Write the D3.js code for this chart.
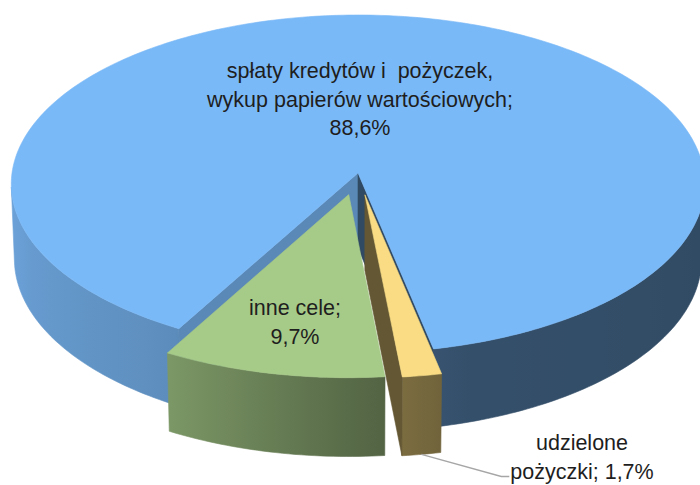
<!DOCTYPE html>
<html>
<head>
<meta charset="utf-8">
<script src="https://cdn.jsdelivr.net/npm/d3@7"></script>
<style>
  body { margin: 0; background: #fff; }
  svg { display: block; }
  text { white-space: pre; }
</style>
</head>
<body>
<div id="chart"></div>
<script>

// 3D pie chart: cele wydatków (udział %)

// chart data, clockwise from the first slice
const categories = ["udzielone pożyczki", "inne cele", "spłaty kredytów i  pożyczek, wykup papierów wartościowych"];
const values = [1.7, 9.7, 88.6];
const labelLines = [["udzielone", "pożyczki;"], ["inne cele;"], ["spłaty kredytów i  pożyczek,", "wykup papierów wartościowych;"]];
const topColors = ["#f9dc83", "#a6ca88", "#7ab9f7"];
const explode = [0.13, 0.13, 0];

// label placement (centre x, first baseline, value on same line?)
const labelPos = [
  {x: 582, y: 450, inline: true},
  {x: 295, y: 315, inline: false},
  {x: 360, y: 78, inline: false}
];

const width = 700;
const height = 485;
const lineH = 28.5;
const startDeg = 168.2;   // first slice angle, clockwise from 12 o'clock
const depth = 0.25;       // pie thickness, in radius units

// simple perspective camera looking down at the pie
const cam = {cx: 358, cy: 173, f: 4650, D: 13.44, alpha: 29.1 * Math.PI / 180};
const ca = Math.cos(cam.alpha), sa = Math.sin(cam.alpha);

function project(X, Y, Z) {
  const yc = Y * ca - Z * sa;
  const zc = cam.D - (Y * sa + Z * ca);
  return [cam.cx + cam.f * X / zc, cam.cy - cam.f * yc / zc];
}

const svg = d3.select("#chart")
  .append("svg")
  .attr("width", width)
  .attr("height", height);

const defs = svg.append("defs");

const pie = d3.pie()
  .sort(null)
  .value(d => d)
  .startAngle(startDeg * Math.PI / 180)
  .endAngle(startDeg * Math.PI / 180 + 2 * Math.PI);

const arcs = pie(values);

// how bright the outer wall is, by angle (degrees)
const shade = d3.scaleLinear()
  .domain([90, 165, 178, 212, 270])
  .range([0.40, 0.43, 0.52, 0.77, 0.89])
  .clamp(true);

const darken = (col, k) => {
  const c = d3.rgb(col);
  return d3.rgb(c.r * k, c.g * k, c.b * k).formatHex();
};

const line = d3.line();

// draw back slice first, then the exploded ones
const order = [2, 0, 1];

order.forEach(i => {
  const d = arcs[i];
  const mid = (d.startAngle + d.endAngle) / 2;
  const ox = explode[i] * Math.sin(mid);
  const oz = -explode[i] * Math.cos(mid);
  const rim = (t, Y) => project(ox + Math.sin(t), Y, oz - Math.cos(t));
  const g = svg.append("g").attr("class", "slice");

  const n = Math.max(2, Math.ceil((d.endAngle - d.startAngle) / (Math.PI / 180)));
  const angles = d3.range(n + 1).map(k => d.startAngle + (d.endAngle - d.startAngle) * k / n);

  // gradient for the outer wall, following screen x
  const gid = "wall" + i;
  const xs = d3.range(96, 265, 6).map(a => rim(a * Math.PI / 180, 0)[0]);
  const x1 = xs[0], x2 = xs[xs.length - 1];
  const grad = defs.append("linearGradient")
    .attr("id", gid)
    .attr("gradientUnits", "userSpaceOnUse")
    .attr("x1", x1).attr("x2", x2).attr("y1", 0).attr("y2", 0);
  d3.range(96, 265, 6).forEach((a, k) => {
    grad.append("stop")
      .attr("offset", (xs[k] - x1) / (x2 - x1))
      .attr("stop-color", darken(topColors[i], shade(a)));
  });

  // outer wall: keep the segments facing the camera
  const Cz = cam.D * ca;
  const runs = [];
  let cur = null;
  for (let k = 0; k < n; k++) {
    const tm = (angles[k] + angles[k + 1]) / 2;
    const vis = -ox * Math.sin(tm) - 1 - (Cz - oz) * Math.cos(tm) > 0;
    if (vis) {
      if (!cur) { cur = [k]; runs.push(cur); }
      cur[1] = k + 1;
    } else cur = null;
  }
  runs.forEach(([k0, k1]) => {
    const seg = angles.slice(k0, k1 + 1);
    const pts = seg.map(t => rim(t, 0)).concat(seg.slice().reverse().map(t => rim(t, -depth)));
    g.append("path")
      .attr("d", line(pts) + "Z")
      .attr("fill", `url(#${gid})`)
      .attr("stroke", `url(#${gid})`)
      .attr("stroke-width", 0.6);
  });

  // cut faces at the start and end of the slice
  const apexTop = project(ox, 0, oz);
  const apexBot = project(ox, -depth, oz);
  const faces = [
    {t: d.startAngle, nx: -Math.cos(d.startAngle), nz: -Math.sin(d.startAngle), k: 0.74},
    {t: d.endAngle, nx: Math.cos(d.endAngle), nz: Math.sin(d.endAngle), k: 0.40}
  ];
  faces.forEach(fc => {
    if (-ox * fc.nx + (Cz - oz) * fc.nz <= 0) return;
    const col = darken(topColors[i], fc.k);
    g.append("path")
      .attr("d", line([apexTop, rim(fc.t, 0), rim(fc.t, -depth), apexBot]) + "Z")
      .attr("fill", col)
      .attr("stroke", col)
      .attr("stroke-width", 0.6);
  });

  // top face
  g.append("path")
    .attr("d", line([apexTop].concat(angles.map(t => rim(t, 0)))) + "Z")
    .attr("fill", topColors[i])
    .attr("stroke", topColors[i])
    .attr("stroke-width", 0.6);
});

// data labels
const pct = d3.formatLocale({decimal: ",", thousands: " ", grouping: [3], currency: ["", ""]}).format(".1f");

const labels = svg.append("g")
  .attr("font-family", "'Liberation Sans', Arial, sans-serif")
  .attr("font-size", "21.5px")
  .attr("fill", "#1e1e1e")
  .attr("text-anchor", "middle");

categories.forEach((c, i) => {
  const pos = labelPos[i];
  const lines = labelLines[i].slice();
  const v = pct(values[i]) + "%";
  if (pos.inline) lines[lines.length - 1] += " " + v;
  else lines.push(v);

  const text = labels.append("text")
    .attr("xml:space", "preserve");
  lines.forEach((s, k) => {
    text.append("tspan")
      .attr("x", pos.x)
      .attr("y", pos.y + k * lineH)
      .text(s);
  });

  // leader line for the small slice
  if (pos.inline) {
    const d = arcs[i];
    const mid = (d.startAngle + d.endAngle) / 2;
    const ox = explode[i] * Math.sin(mid);
    const oz = -explode[i] * Math.cos(mid);
    const p0 = project(ox + Math.sin(mid), -depth, oz - Math.cos(mid));
    const last = text.selectAll("tspan").nodes().pop();
    const tw = last.getComputedTextLength();
    const yL = pos.y + (lines.length - 1) * lineH - 2;
    const xL = pos.x - tw / 2 - 1;
    svg.append("path")
      .attr("d", line([p0, [xL - 8, yL], [xL, yL]]))
      .attr("fill", "none")
      .attr("stroke", "#a6a6a6")
      .attr("stroke-width", 1.3);
  }
});

</script>
</body>
</html>
